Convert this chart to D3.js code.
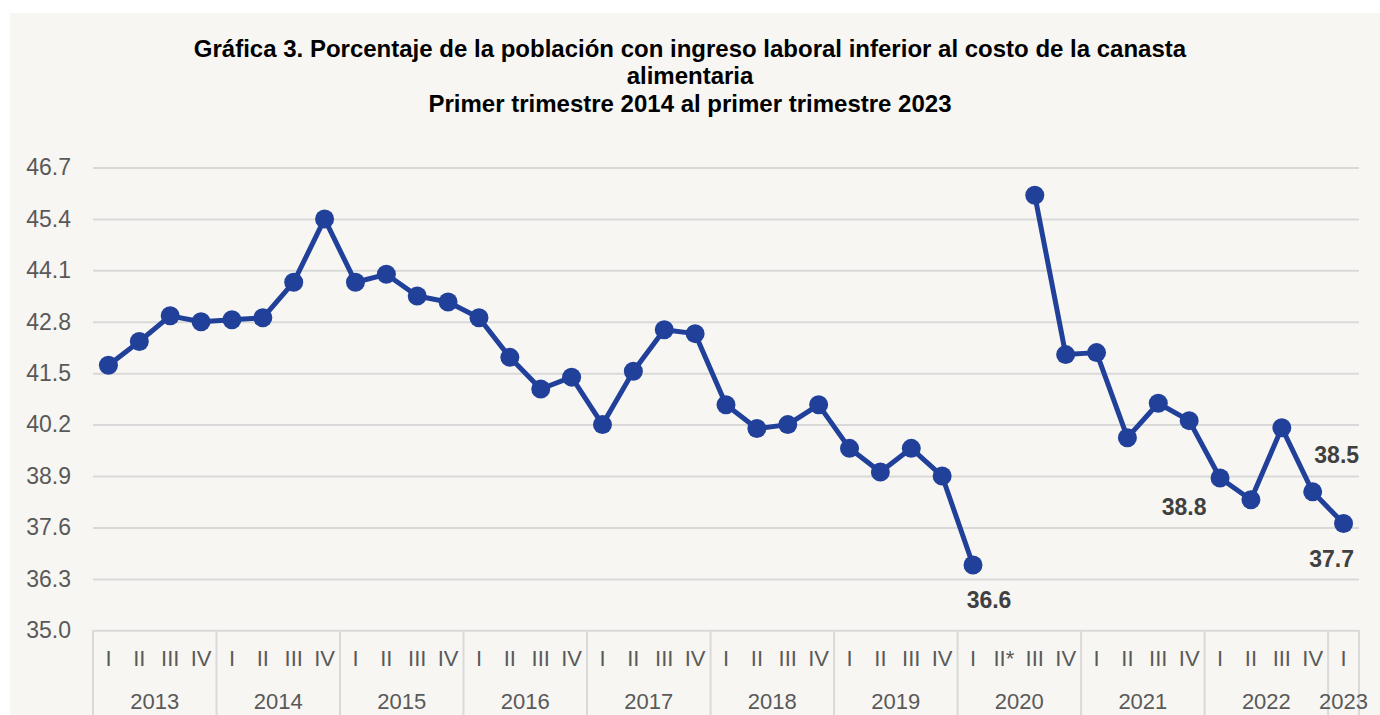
<!DOCTYPE html>
<html>
<head>
<meta charset="utf-8">
<script src="https://cdn.jsdelivr.net/npm/d3@7"></script>
<style>
html, body { margin: 0; padding: 0; background: #ffffff; }
svg { display: block; font-family: "Liberation Sans", Arial, sans-serif; }
</style>
</head>
<body>
<svg id="chart" width="1380" height="715"></svg>
<script>
// ---- data ----
const years = ["2013","2014","2015","2016","2017","2018","2019","2020","2021","2022","2023"];
const quarterLabels = [
  "I","II","III","IV", "I","II","III","IV", "I","II","III","IV", "I","II","III","IV",
  "I","II","III","IV", "I","II","III","IV", "I","II","III","IV", "I","II*","III","IV",
  "I","II","III","IV", "I","II","III","IV", "I"
];
const values = [
  41.7, 42.3, 42.95, 42.8,
  42.85, 42.9, 43.8, 45.4,
  43.8, 44.0, 43.45, 43.3,
  42.9, 41.9, 41.1, 41.4,
  40.2, 41.55, 42.6, 42.5,
  40.7, 40.1, 40.2, 40.7,
  39.6, 39.0, 39.6, 38.9,
  36.65, null, 46.0, 41.97,
  42.02, 39.87, 40.74, 40.3,
  38.85, 38.3, 40.12, 38.5,
  37.7
];
const yTicks = [35.0, 36.3, 37.6, 38.9, 40.2, 41.5, 42.8, 44.1, 45.4, 46.7];
const dataLabels = [
  { index: 28, text: "36.6" },
  { index: 36, text: "38.8" },
  { index: 39, text: "38.5" },
  { index: 40, text: "37.7" }
];
const titleLines = [
  "Gráfica 3. Porcentaje de la población con ingreso laboral inferior al costo de la canasta",
  "alimentaria",
  "Primer trimestre 2014 al primer trimestre 2023"
];

// ---- layout ----
const svg = d3.select("#chart");
const W = 1380, H = 715;
const plot = { left: 93, right: 1359, top: 167.5, bottom: 630.3 };
const lineColor = "#21409A";
const gridColor = "#D9D9D9";
const axisText = "#595959";

svg.append("rect").attr("x", 10).attr("y", 13).attr("width", W - 10).attr("height", H - 13)
  .attr("fill", "#F7F6F2");

const n = quarterLabels.length;
const x = d3.scaleBand().domain(d3.range(n)).range([plot.left, plot.right]).paddingInner(0).paddingOuter(0);
const xc = i => x(i) + x.bandwidth() / 2;
const y = d3.scaleLinear().domain([35.0, 46.7]).range([plot.bottom, plot.top]);

// title
const title = svg.append("g");
titleLines.forEach((t, k) => {
  title.append("text")
    .attr("x", 690).attr("y", 57 + k * 27.3)
    .attr("text-anchor", "middle")
    .attr("font-size", 24).attr("font-weight", "bold").attr("fill", "#000")
    .text(t);
});

// y axis with gridlines
const yAxis = d3.axisLeft(y).tickValues(yTicks).tickFormat(d3.format(".1f"))
  .tickSize(-(plot.right - plot.left)).tickPadding(22);
const gy = svg.append("g").attr("transform", `translate(${plot.left},0)`).call(yAxis);
gy.select(".domain").remove();
gy.selectAll(".tick line").attr("stroke", gridColor).attr("stroke-width", 2);
gy.selectAll(".tick text").attr("fill", axisText).attr("font-size", 23)
  .attr("font-family", "'Liberation Sans', Arial, sans-serif");

// x axis: quarter labels
const xAxis = d3.axisBottom(x).tickSize(0).tickPadding(20).tickFormat(i => quarterLabels[i]);
const gx = svg.append("g").attr("transform", `translate(0,${plot.bottom})`).call(xAxis);
gx.select(".domain").remove();
gx.selectAll(".tick text").attr("fill", axisText).attr("font-size", 22)
  .attr("font-family", "'Liberation Sans', Arial, sans-serif");

// year dividers and labels
const yearStarts = years.map((yr, k) => k * 4);
const dividers = yearStarts.concat([n]);
svg.append("g").selectAll("line").data(dividers).join("line")
  .attr("x1", i => i < n ? x(i) : plot.right)
  .attr("x2", i => i < n ? x(i) : plot.right)
  .attr("y1", plot.bottom).attr("y2", H)
  .attr("stroke", gridColor).attr("stroke-width", 2);

svg.append("g").selectAll("text").data(years).join("text")
  .attr("x", (yr, k) => {
    const a = k * 4, b = Math.min(k * 4 + 4, n);
    return (x(a) + (b < n ? x(b) : plot.right)) / 2;
  })
  .attr("y", 709)
  .attr("text-anchor", "middle")
  .attr("font-size", 22).attr("fill", axisText)
  .text(d => d);

// line
const line = d3.line()
  .defined(d => d != null)
  .x((d, i) => xc(i))
  .y(d => y(d));
svg.append("path").datum(values)
  .attr("d", line)
  .attr("fill", "none").attr("stroke", lineColor).attr("stroke-width", 5)
  .attr("stroke-linejoin", "round");

svg.append("g").selectAll("circle")
  .data(values.map((v, i) => ({ v, i })).filter(d => d.v != null))
  .join("circle")
  .attr("cx", d => xc(d.i)).attr("cy", d => y(d.v)).attr("r", 9.5)
  .attr("fill", lineColor);

// data labels
const labelOffsets = { 28: [16, 43], 36: [-36, 37], 39: [24, -29], 40: [-12, 43] };
svg.append("g").selectAll("text").data(dataLabels).join("text")
  .attr("x", d => xc(d.index) + labelOffsets[d.index][0])
  .attr("y", d => y(values[d.index]) + labelOffsets[d.index][1])
  .attr("text-anchor", "middle")
  .attr("font-size", 23).attr("font-weight", "bold").attr("fill", "#404040")
  .text(d => d.text);
</script>
</body>
</html>
